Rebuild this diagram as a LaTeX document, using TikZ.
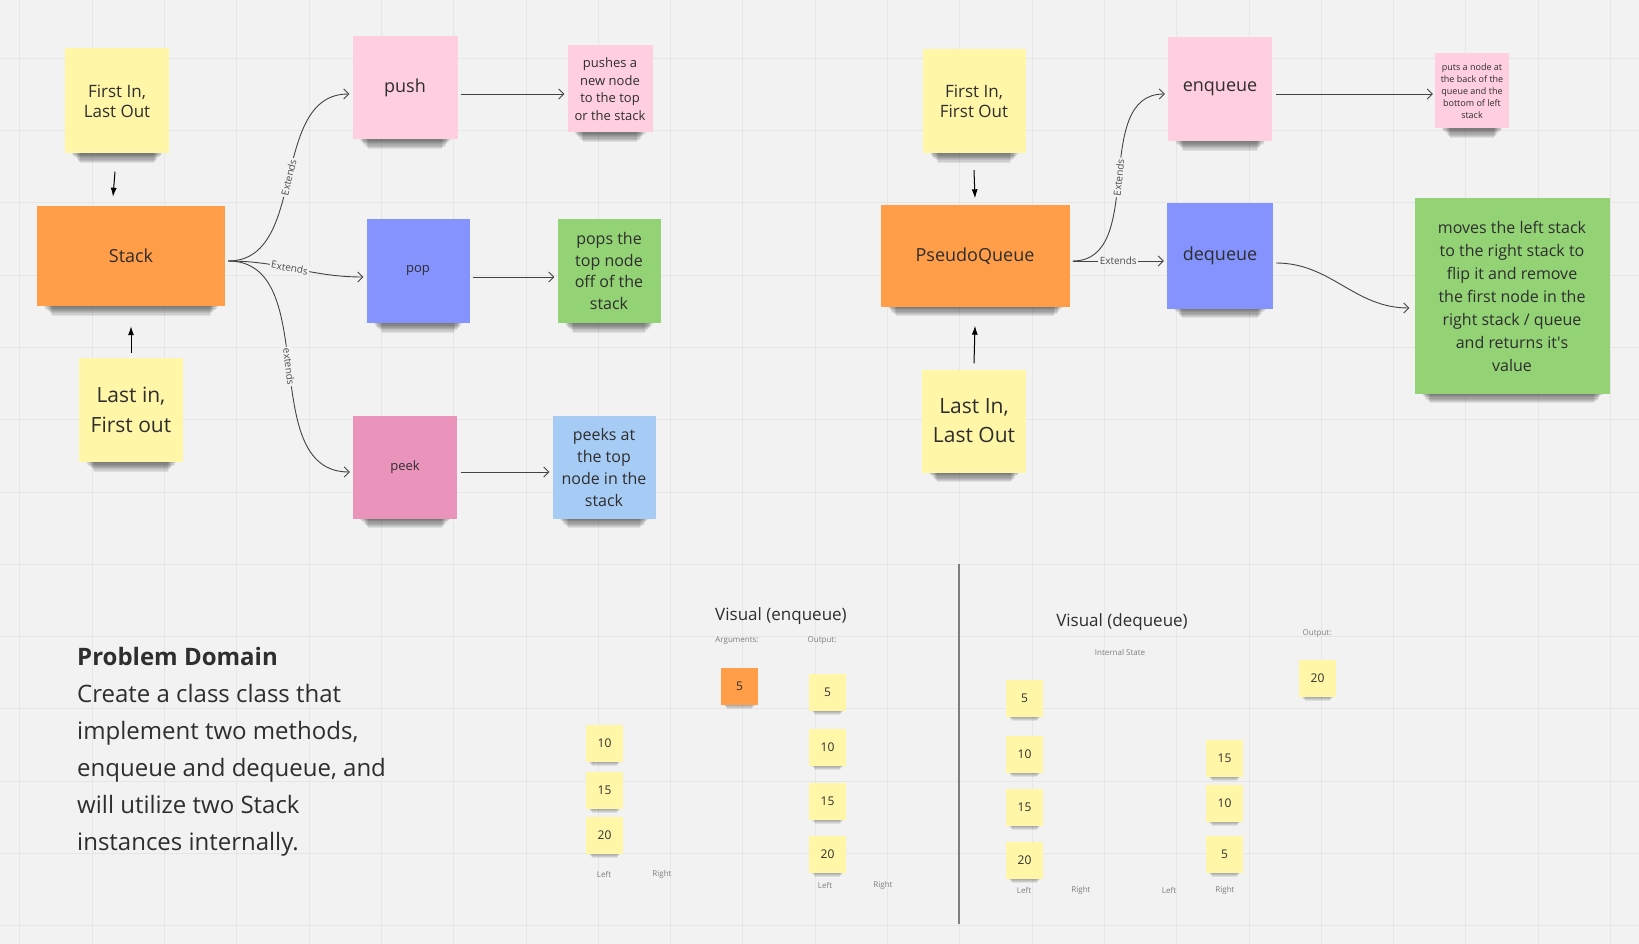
\documentclass[tikz,border=0pt]{standalone}
\usepackage{fontspec}
\setmainfont{Open Sans}
\usepackage{tikz}
\usetikzlibrary{calc,positioning,arrows.meta,backgrounds}

\definecolor{bg}{HTML}{F2F2F2}
\definecolor{gridc}{HTML}{E6E6E6}
\definecolor{ylw}{HTML}{FFF6A8}
\definecolor{org}{HTML}{FF9D48}
\definecolor{pnk}{HTML}{FFCEE0}
\definecolor{blu}{HTML}{8493FD}
\definecolor{grn}{HTML}{93D275}
\definecolor{dpnk}{HTML}{EA94BB}
\definecolor{lblu}{HTML}{A6CCF5}
\definecolor{ink}{HTML}{2E2E2E}
\definecolor{lbl}{HTML}{7E7E7E}

\newcommand{\fsz}[2]{\fontsize{#1}{#2}\selectfont}

\tikzset{
	note/.style={rectangle,inner sep=2pt,align=center,text=ink},
	num/.style={rectangle,fill=ylw,minimum size=37pt,inner sep=0pt,text=ink,font=\fsz{12}{14}},
	shd/.style={fill=black,opacity=0.08},
	con/.style={draw=ink!90,line width=0.9pt,-{Straight Barb[length=5pt,width=10pt]}},
	arr/.style={draw=black,line width=1pt,-{Latex[length=9pt,width=6pt]}},
	ext/.style={fill=bg,inner sep=1.5pt,font=\fsz{10}{10},text=ink!85,sloped},
	tiny/.style={text=lbl,font=\fsz{8}{8}},
	gridline/.style={draw=gridc,line width=1pt}
}

\begin{document}
\begin{tikzpicture}[x=1pt,y=-1pt]
	\useasboundingbox (0,0) rectangle (1639,944);
	\begin{scope}[on background layer]
		\fill[bg] (0,0) rectangle (1639,944);
		\foreach \i in {0,...,22}
			\draw[gridline] (19.9+72.3*\i,0) -- (19.9+72.3*\i,944);
		\foreach \i in {0,...,13}
			\draw[gridline] (0,-14.1+72.3*\i) -- (1639,-14.1+72.3*\i);
	\end{scope}

	\node(filo)[note,fill=ylw,minimum width=104pt,minimum height=105pt,font=\fsz{17}{20}] at (117,101) {First In,\\Last Out};
	\node(stack)[note,fill=org,minimum width=188pt,minimum height=100pt,font=\fsz{18}{22}] at (131,256) {Stack};
	\node(lifo)[note,fill=ylw,minimum width=104pt,minimum height=104pt,font=\fsz{21}{30}] at (131,410) {Last in,\\First out};
	\node(push)[note,fill=pnk,minimum width=105pt,minimum height=103pt,font=\fsz{18}{22}] at (405,88) {push};
	\node(pushinfo)[note,fill=pnk,minimum width=85pt,minimum height=87pt,font=\fsz{13}{17.5}] at (610,89) {pushes a\\new node\\to the top\\or the stack};
	\node(pop)[note,fill=blu,minimum width=103pt,minimum height=104pt,font=\fsz{13}{16}] at (418,271) {pop};
	\node(popinfo)[note,fill=grn,minimum width=103pt,minimum height=104pt,font=\fsz{16}{21.5}] at (609,271) {pops the\\top node\\off of the\\stack};
	\node(peek)[note,fill=dpnk,minimum width=104pt,minimum height=103pt,font=\fsz{13}{16}] at (405,467) {peek};
	\node(peekinfo)[note,fill=lblu,minimum width=103pt,minimum height=103pt,font=\fsz{16}{22}] at (604,467) {peeks at\\the top\\node in the\\stack};

	\draw[arr] ([xshift=-2pt,yshift=-18pt]filo.south) -- ([xshift=-18pt,yshift=9pt]stack.north);
	\draw[arr] ([yshift=5pt]lifo.north) -- ([yshift=-20pt]stack.south);
	\draw[con] ([xshift=3pt,yshift=-5pt]stack.east) to[out=0,in=180] node[ext]{Extends} ([xshift=-3pt,yshift=-6pt]push.west);
	\draw[con] ([xshift=3pt,yshift=-5pt]stack.east) to[out=0,in=180] node[ext,pos=0.45]{Extends} ([xshift=-3pt,yshift=-6pt]pop.west);
	\draw[con] ([xshift=3pt,yshift=-5pt]stack.east) to[out=0,in=180] node[ext]{extends} ([xshift=-3pt,yshift=-5pt]peek.west);
	\draw[con] ([xshift=3pt,yshift=-6pt]push.east) -- ([xshift=-3pt,yshift=-5pt]pushinfo.west);
	\draw[con] ([xshift=3pt,yshift=-6pt]pop.east) -- ([xshift=-3pt,yshift=-6pt]popinfo.west);
	\draw[con] ([xshift=4pt,yshift=-5pt]peek.east) -- ([xshift=-3pt,yshift=-5pt]peekinfo.west);

	\node(fifo)[note,fill=ylw,minimum width=103pt,minimum height=104pt,font=\fsz{17}{20}] at (974,101) {First In,\\First Out};
	\node(pq)[note,fill=org,minimum width=189pt,minimum height=101pt,font=\fsz{18}{22}] at (975,256) {PseudoQueue};
	\node(lilo)[note,fill=ylw,minimum width=104pt,minimum height=103pt,font=\fsz{21}{29}] at (974,421) {Last In,\\Last Out};
	\node(enq)[note,fill=pnk,minimum width=104pt,minimum height=104pt,font=\fsz{18}{22}] at (1220,89) {enqueue};
	\node(enqinfo)[note,fill=pnk,minimum width=74pt,minimum height=75pt,font=\fsz{9}{12}] at (1472,91) {puts a node at\\the back of the\\queue and the\\bottom of left\\stack};
	\node(deq)[note,fill=blu,minimum width=106pt,minimum height=105pt,font=\fsz{18}{22}] at (1220,256) {dequeue};
	\node(deqinfo)[note,fill=grn,minimum width=195pt,minimum height=195pt,font=\fsz{16}{23}] at (1512,296) {moves the left stack\\to the right stack to\\flip it and remove\\the first node in the\\right stack / queue\\and returns it\textquotesingle s\\value};

	\draw[arr] ([yshift=-17pt]fifo.south) -- ([yshift=7pt]pq.north);
	\draw[arr] ([yshift=6pt]lilo.north) -- ([yshift=-19pt]pq.south);
	\draw[con] ([xshift=3pt,yshift=-5pt]pq.east) to[out=0,in=180] node[ext]{Extends} ([xshift=-3pt,yshift=-5pt]enq.west);
	\draw[con] ([xshift=3pt,yshift=-5pt]pq.east) -- node[ext]{Extends} ([xshift=-3pt,yshift=-5pt]deq.west);
	\draw[con] ([xshift=4pt,yshift=-5pt]enq.east) -- ([xshift=-2pt,yshift=-3pt]enqinfo.west);
	\draw[con] ([xshift=3pt,yshift=-7pt]deq.east) to[out=0,in=180] ([xshift=-5pt,yshift=-12pt]deqinfo.west);

	\node(pd)[anchor=base west,inner sep=0pt,text=ink,font=\fsz{24}{37}\bfseries] at (77,665) {Problem Domain};
	\foreach \l [count=\i] in {Create a class class that,{implement two methods,},{enqueue and dequeue, and},will utilize two Stack,instances internally.}
		\node(pd\i)[anchor=base west,inner sep=0pt,text=ink,font=\fsz{24}{37}] at (77,665+37*\i) {\l};

	\node(venq)[text=ink,font=\fsz{17}{20}] at (781,616) {Visual (enqueue)};
	\node(args)[tiny] at (737,641) {Arguments:};
	\node(outa)[tiny] at (822,641) {Output:};
	\node(arg5)[num,fill=org] at (739.5,686) {5};
	\foreach \v/\y in {10/743.5,15/790,20/835}
		\node(el\v)[num] at (604.5,\y) {\v};
	\foreach \v/\y in {5/692,10/747,15/801,20/854}
		\node(eo\v)[num] at (827.5,\y) {\v};
	\node(ell)[tiny] at (604,874) {Left};
	\node(elr)[tiny] at (662,874) {Right};
	\node(eol)[tiny] at (825,885) {Left};
	\node(eor)[tiny] at (883,885) {Right};

	\draw[draw=lbl,line width=2pt] (959,564) -- (959,924);

	\node(vdeq)[text=ink,font=\fsz{17}{20}] at (1122,622) {Visual (dequeue)};
	\node(istate)[tiny] at (1120,652) {Internal State};
	\node(outd)[tiny] at (1317,634) {Output:};
	\node(out20)[num] at (1317.5,678.5) {20};
	\foreach \v/\y in {5/698,10/754,15/807,20/860}
		\node(dl\v)[num] at (1024.5,\y) {\v};
	\foreach \v/\y in {15/758.5,10/803.5,5/854.5}
		\node(dr\v)[num] at (1224.5,\y) {\v};
	\node(dll)[tiny] at (1024,890) {Left};
	\node(dlr)[tiny] at (1081,890) {Right};
	\node(drl)[tiny] at (1169,890) {Left};
	\node(drr)[tiny] at (1225,890) {Right};

	\begin{scope}[on background layer]
		\foreach \nm in {filo,stack,lifo,push,pushinfo,pop,popinfo,peek,peekinfo,fifo,pq,lilo,enq,enqinfo,deq,deqinfo}
			\foreach \k in {1,...,8}
				\fill[shd] ([xshift=6pt+1.2pt*\k,yshift=2pt]\nm.south west) rectangle ([xshift=-6pt-1.2pt*\k,yshift=-1.2pt*\k]\nm.south east);
		\foreach \nm in {arg5,el10,el15,el20,eo5,eo10,eo15,eo20,out20,dl5,dl10,dl15,dl20,dr15,dr10,dr5}
			\foreach \k in {1,...,4}
				\fill[shd] ([xshift=2pt+1pt*\k,yshift=2pt]\nm.south west) rectangle ([xshift=-2pt-1pt*\k,yshift=-1pt*\k]\nm.south east);
	\end{scope}
\end{tikzpicture}
\end{document}
